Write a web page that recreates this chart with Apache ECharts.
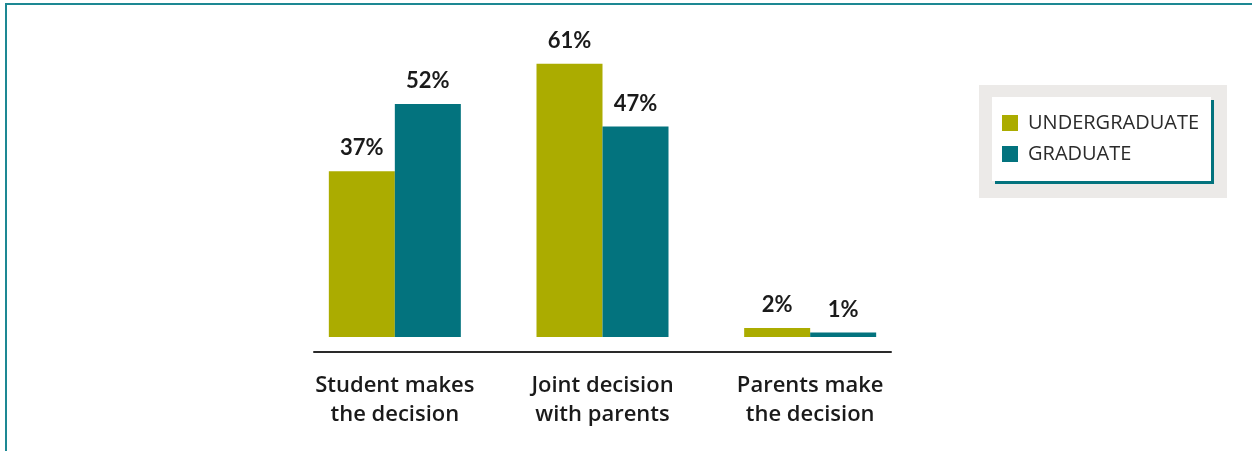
<!DOCTYPE html>
<html>
<head>
<meta charset="utf-8">
<script src="https://cdn.jsdelivr.net/npm/echarts@6/dist/echarts.min.js"></script>
<style>
  html, body { margin: 0; padding: 0; background: #ffffff; }
  #chart { width: 1252px; height: 451px; }
</style>
</head>
<body>
<div id="chart"></div>
<script>
// Who makes the decision, by student level (percent)
const categories = ['Student makes\nthe decision', 'Joint decision\nwith parents', 'Parents make\nthe decision'];
const undergraduate = [37, 61, 2];
const graduate = [52, 47, 1];
const seriesNames = ['UNDERGRADUATE', 'GRADUATE'];

const OLIVE = '#abac00';
const TEAL = '#03737e';
const FRAME = '#1d8893';
const FONT = 'Lato, "Open Sans", sans-serif';
const WIDE_FONT = '"Open Sans", Lato, sans-serif';

const chart = echarts.init(document.getElementById('chart'), null, { renderer: 'canvas' });

const valueLabel = {
  show: true,
  position: 'top',
  distance: 12,
  formatter: p => p.value + '%',
  color: '#1a1a1a',
  fontFamily: FONT,
  fontWeight: 'bold',
  fontSize: 22
};

chart.setOption({
  animation: false,
  backgroundColor: '#ffffff',
  graphic: [
    // outer frame (top and left edges visible)
    { type: 'rect', z: 0, shape: { x: 6, y: 4, width: 1400, height: 600 },
      style: { fill: null, stroke: FRAME, lineWidth: 2 } },
    // grey panel behind the legend
    { type: 'rect', z: 0, shape: { x: 979, y: 85, width: 248, height: 113 },
      style: { fill: '#eceae8' } }
  ],
  legend: {
    data: seriesNames,
    orient: 'vertical',
    left: 992,
    top: 97,
    icon: 'rect',
    itemWidth: 16,
    itemHeight: 16,
    itemGap: 11,
    padding: [16, 12, 17, 10],
    backgroundColor: '#ffffff',
    shadowColor: TEAL,
    shadowBlur: 0,
    shadowOffsetX: 3,
    shadowOffsetY: 3,
    textStyle: { color: '#2b2b2b', fontFamily: WIDE_FONT, fontSize: 20, padding: [0, 0, 0, 5] }
  },
  grid: [
    { left: 291, right: 1252 - 914, top: 23.5, bottom: 114 },
    // baseline rule, slightly narrower than the category bands
    { left: 314, right: 1252 - 891, top: 23.5, bottom: 99 }
  ],
  xAxis: [
    {
      type: 'category',
      gridIndex: 0,
      data: categories,
      axisLine: { show: false },
      axisTick: { show: false },
      axisLabel: {
        margin: 34,
        color: '#1a1a1a',
        fontFamily: WIDE_FONT,
        fontWeight: 600,
        fontSize: 22,
        lineHeight: 29
      }
    },
    {
      type: 'value',
      gridIndex: 1,
      min: 0,
      max: 1,
      axisLine: { show: true, lineStyle: { color: '#2a2a2a', width: 2 } },
      axisTick: { show: false },
      axisLabel: { show: false },
      splitLine: { show: false }
    }
  ],
  yAxis: [
    { type: 'value', gridIndex: 0, min: 0, max: 70, show: false, splitLine: { show: false } },
    { type: 'value', gridIndex: 1, show: false, splitLine: { show: false } }
  ],
  series: [
    {
      name: seriesNames[0],
      type: 'bar',
      data: undergraduate,
      barWidth: 66,
      barGap: '0%',
      itemStyle: { color: OLIVE },
      label: valueLabel
    },
    {
      name: seriesNames[1],
      type: 'bar',
      data: graduate,
      barWidth: 66,
      barGap: '0%',
      itemStyle: { color: TEAL },
      label: valueLabel
    }
  ]
});
</script>
</body>
</html>
